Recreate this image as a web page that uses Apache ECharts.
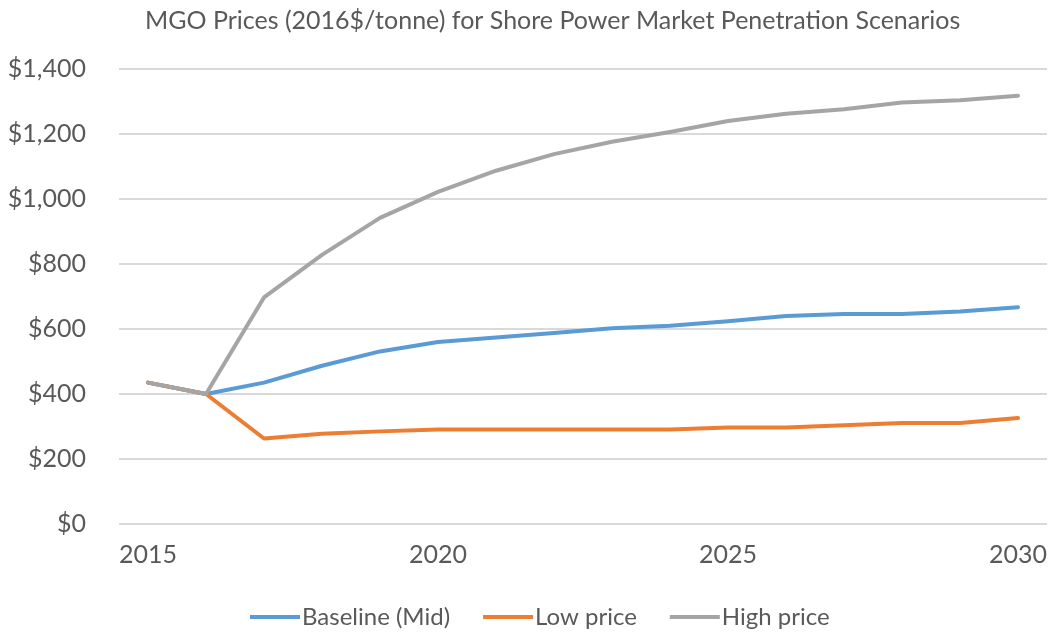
<!DOCTYPE html>
<html>
<head>
<meta charset="utf-8">
<script src="https://cdn.jsdelivr.net/npm/echarts@6/dist/echarts.min.js"></script>
<style>
  html, body { margin: 0; padding: 0; background: #fff; }
  #chart { width: 1050px; height: 634px; }
</style>
</head>
<body>
<div id="chart"></div>
<script>
// MGO price scenarios, 2016 dollars per tonne
const years = ['2015','2016','2017','2018','2019','2020','2021','2022','2023','2024','2025','2026','2027','2028','2029','2030'];
const baselineMid = [435, 400, 435, 487, 531, 560, 574, 588, 602, 610, 624, 640, 646, 646, 654, 667];
const lowPrice    = [435, 400, 263, 278, 285, 291, 291, 291, 291, 291, 297, 297, 304, 311, 311, 326];
const highPrice   = [435, 400, 697, 828, 942, 1022, 1087, 1138, 1176, 1206, 1240, 1262, 1276, 1297, 1304, 1318];
const yTicks = [0, 200, 400, 600, 800, 1000, 1200, 1400];

const FONT = 'Lato';
const TEXT = '#595959';

const chart = echarts.init(document.getElementById('chart'), null, { renderer: 'canvas' });

function money(v) {
  return '$' + v.toLocaleString('en-US');
}

function lineSeries(name, data, color) {
  return {
    name: name,
    type: 'line',
    data: data,
    symbol: 'none',
    smooth: false,
    lineStyle: { color: color, width: 4, cap: 'round', join: 'round' },
    itemStyle: { color: color },
    emphasis: { disabled: true }
  };
}

chart.setOption({
  animation: false,
  title: {
    text: 'MGO Prices (2016$/tonne) for Shore Power Market Penetration Scenarios',
    left: 140,
    top: 3,
    textStyle: { fontFamily: FONT, fontSize: 25, fontWeight: 'normal', color: TEXT }
  },
  grid: { left: 119, right: 3, top: 69, bottom: 110, containLabel: false },
  legend: {
    bottom: 0,
    left: 245,
    itemWidth: 50,
    itemHeight: 4,
    itemGap: 33,
    icon: 'rect',
    textStyle: { fontFamily: FONT, fontSize: 24, color: TEXT, padding: [0, 0, 0, -3] },
    data: ['Baseline (Mid)', 'Low price', 'High price']
  },
  xAxis: {
    type: 'category',
    data: years,
    boundaryGap: true,
    axisLine: { show: false },
    axisTick: { show: false },
    axisLabel: {
      interval: 4,
      margin: 18,
      fontFamily: FONT,
      fontSize: 25,
      color: TEXT
    }
  },
  yAxis: {
    type: 'value',
    min: yTicks[0],
    max: yTicks[yTicks.length - 1],
    interval: 200,
    axisLine: { show: false },
    axisTick: { show: false },
    splitLine: { lineStyle: { color: '#D9D9D9', width: 2 } },
    axisLabel: {
      formatter: money,
      margin: 33,
      fontFamily: FONT,
      fontSize: 25,
      color: TEXT
    }
  },
  series: [
    lineSeries('Baseline (Mid)', baselineMid, '#5B9BD5'),
    lineSeries('Low price', lowPrice, '#ED7D31'),
    lineSeries('High price', highPrice, '#A5A5A5')
  ]
});
</script>
</body>
</html>
